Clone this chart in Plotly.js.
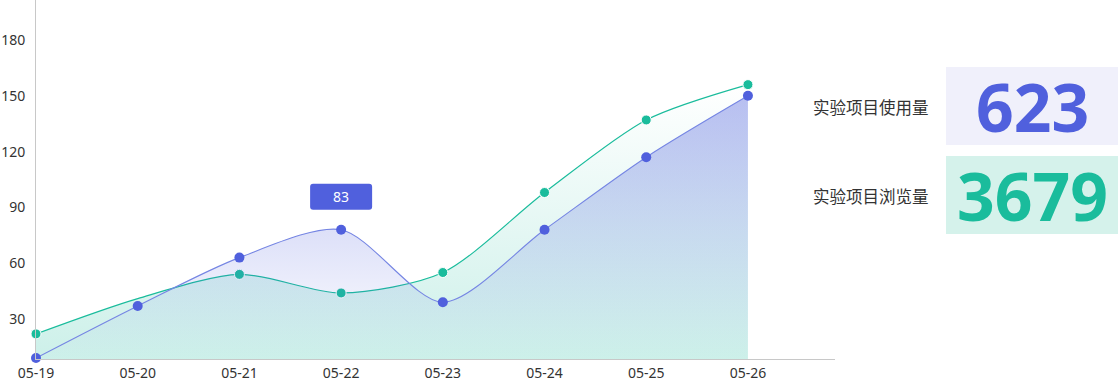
<!DOCTYPE html>
<html>
<head>
<meta charset="utf-8">
<script src="https://cdn.plot.ly/plotly-3.0.1.min.js"></script>
<style>html,body{margin:0;padding:0;background:#fff;}#chart{width:1118px;height:381px;}</style>
</head>
<body>
<div id="chart"></div>
<script>
var dates = ['05-19','05-20','05-21','05-22','05-23','05-24','05-25','05-26'];
var usage = [9, 37, 63, 78, 39, 78, 117, 150];
var views = [22, 41, 54, 44, 55, 98, 137, 156];
var yTicks = [30, 60, 90, 120, 150, 180];
var usageLabel = '实验项目使用量';
var viewsLabel = '实验项目浏览量';
var usageTotal = '623';
var viewsTotal = '3679';
var highlightIndex = 3;
var highlightText = '83';

var BLUE = '#5060dd', GREEN = '#1abc9c';
var CJK = '"Noto Sans CJK SC", "Noto Sans", sans-serif';
var LATIN = '"Noto Sans", "Open Sans", sans-serif';
var yMin = 8.5, yMax = 201.5;

var traces = [
  {
    x: dates, y: views, type: 'scatter', mode: 'lines+markers',
    line: {shape: 'spline', smoothing: 0.8, color: GREEN, width: 1.2},
    marker: {color: GREEN, opacity: 1, size: views.map(function(v, i){ return i === 1 ? 0 : 10; })},
    fill: 'tozeroy',
    fillgradient: {type: 'vertical', start: yMin, stop: Math.max.apply(null, views),
      colorscale: [[0, 'rgba(26,188,156,0.22)'], [1, 'rgba(26,188,156,0)']]},
    cliponaxis: false, hoverinfo: 'skip', showlegend: false
  },
  {
    x: dates, y: usage, type: 'scatter', mode: 'lines+markers',
    line: {shape: 'spline', smoothing: 0.8, color: '#7585e3', width: 1.1},
    marker: {color: BLUE, opacity: 1, size: 10},
    fill: 'tozeroy',
    fillgradient: {type: 'vertical', start: yMin, stop: Math.max.apply(null, usage),
      colorscale: [[0, 'rgba(80,96,221,0)'], [1, 'rgba(80,96,221,0.4)']]},
    cliponaxis: false, hoverinfo: 'skip', showlegend: false
  }
];

var L = 36, R = 835, T = 0, B = 359;
function px(x){ return (x - L) / (R - L); }
function py(y){ return (B - y) / (B - T); }

var layout = {
  width: 1118, height: 381,
  margin: {l: L, r: 1118 - R, t: T, b: 381 - B, pad: 0},
  paper_bgcolor: '#fff', plot_bgcolor: 'rgba(0,0,0,0)',
  font: {family: LATIN, color: '#333', size: 14},
  hovermode: false,
  xaxis: {
    type: 'category', range: [0, 7.856], showgrid: false, zeroline: false,
    showline: true, linecolor: '#c8c8c8', linewidth: 1, ticks: '',
    ticklabelstandoff: 1,
    tickfont: {size: 14, color: '#333', family: LATIN}, fixedrange: true
  },
  yaxis: {
    range: [yMin, yMax], showgrid: false, zeroline: false,
    showline: true, linecolor: '#c8c8c8', linewidth: 1, ticks: '',
    ticklabelstandoff: 7,
    tickvals: yTicks, ticktext: yTicks.map(String),
    tickfont: {size: 14, color: '#333', family: LATIN}, fixedrange: true
  },
  shapes: [
    {type: 'rect', xref: 'paper', yref: 'paper', x0: px(946), x1: px(1118), y0: py(145), y1: py(67),
      fillcolor: '#f0f0fb', line: {width: 0}, layer: 'below'},
    {type: 'rect', xref: 'paper', yref: 'paper', x0: px(946), x1: px(1118), y0: py(234), y1: py(156),
      fillcolor: '#d5f2eb', line: {width: 0}, layer: 'below'},
    {type: 'path', xref: 'x', yref: 'y', xsizemode: 'pixel', ysizemode: 'pixel',
      xanchor: highlightIndex, yanchor: usage[highlightIndex],
      path: 'M -28,20 L 28,20 Q 31,20 31,23 L 31,43 Q 31,46 28,46 L -28,46 Q -31,46 -31,43 L -31,23 Q -31,20 -28,20 Z',
      fillcolor: BLUE, line: {width: 0}, layer: 'above'}
  ],
  annotations: [
    {xref: 'x', yref: 'y', x: highlightIndex, y: usage[highlightIndex], text: highlightText,
      showarrow: false, yshift: 33, font: {size: 14, color: '#fff', family: LATIN}},
    {xref: 'paper', yref: 'paper', x: px(931), y: py(107), xanchor: 'right', yanchor: 'middle',
      text: usageLabel, showarrow: false, font: {size: 16.5, color: '#333', family: CJK}},
    {xref: 'paper', yref: 'paper', x: px(931), y: py(196), xanchor: 'right', yanchor: 'middle',
      text: viewsLabel, showarrow: false, font: {size: 16.5, color: '#333', family: CJK}},
    {xref: 'paper', yref: 'paper', x: px(1032), y: py(106), xanchor: 'center', yanchor: 'middle',
      text: '<b>' + usageTotal + '</b>', showarrow: false, font: {size: 66, color: BLUE, family: LATIN}},
    {xref: 'paper', yref: 'paper', x: px(1032), y: py(195), xanchor: 'center', yanchor: 'middle',
      text: '<b>' + viewsTotal + '</b>', showarrow: false, font: {size: 66, color: GREEN, family: LATIN}}
  ]
};

Plotly.newPlot('chart', traces, layout, {displayModeBar: false, staticPlot: true});
</script>
</body>
</html>
